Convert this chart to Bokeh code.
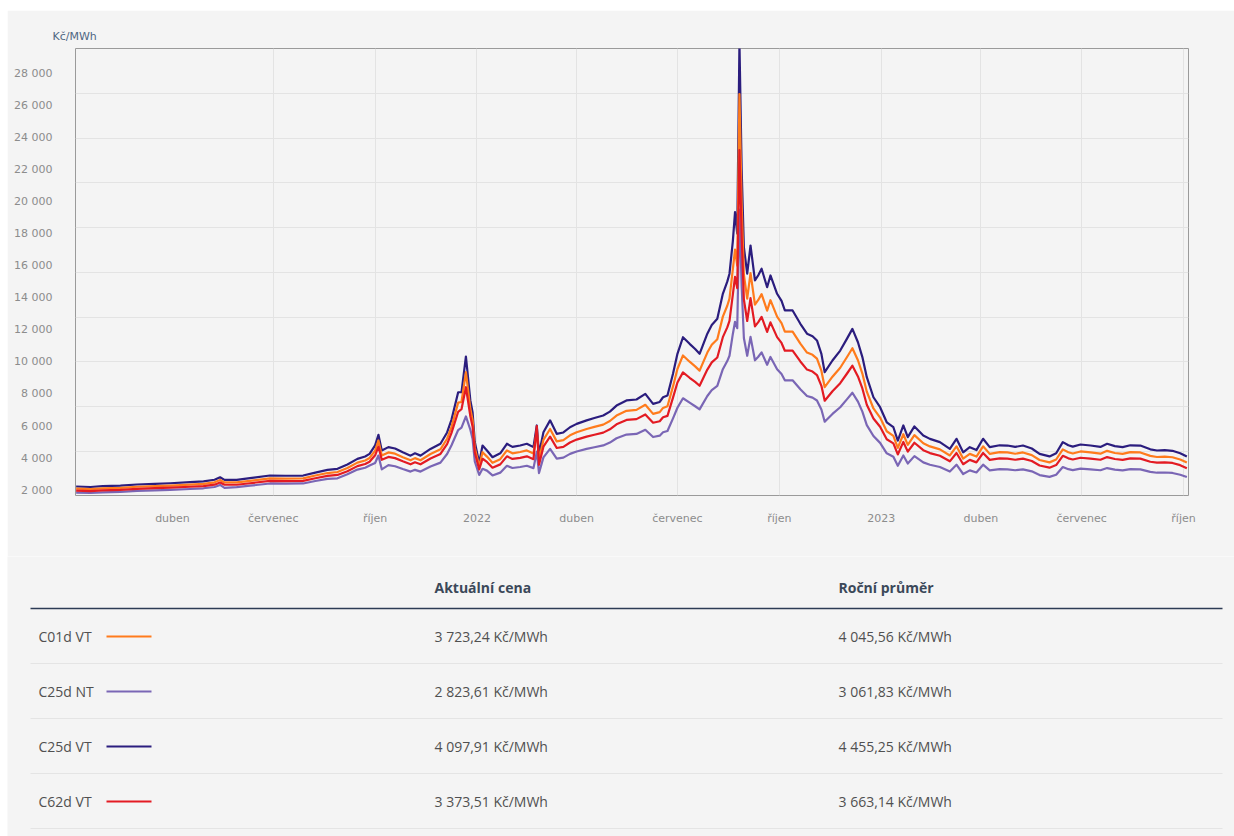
import pandas as pd
from bokeh.plotting import figure
from bokeh.models import Range1d, FixedTicker, ColumnDataSource
from bokeh.layouts import column
from bokeh.embed import file_html
from bokeh.resources import INLINE
from bokeh.core.properties import value

# ---------------- data ----------------
dates = [
    "2021-01-04", "2021-01-17", "2021-01-28", "2021-02-13", "2021-02-28", "2021-03-16", "2021-03-30", "2021-04-17", "2021-04-29", "2021-05-09",
    "2021-05-14", "2021-05-18", "2021-05-29", "2021-06-10", "2021-06-28", "2021-07-12", "2021-07-28", "2021-08-08", "2021-08-19", "2021-08-28",
    "2021-09-06", "2021-09-15", "2021-09-22", "2021-09-26", "2021-10-01", "2021-10-04", "2021-10-07", "2021-10-13", "2021-10-19", "2021-10-26",
    "2021-11-02", "2021-11-06", "2021-11-11", "2021-11-20", "2021-11-29", "2021-12-05", "2021-12-09", "2021-12-15", "2021-12-18", "2021-12-22",
    "2021-12-26", "2021-12-28", "2021-12-30", "2022-01-03", "2022-01-06", "2022-01-10", "2022-01-15", "2022-01-22", "2022-01-28", "2022-02-02",
    "2022-02-09", "2022-02-15", "2022-02-21", "2022-02-24", "2022-02-26", "2022-03-02", "2022-03-08", "2022-03-14", "2022-03-20", "2022-03-26",
    "2022-04-01", "2022-04-10", "2022-04-17", "2022-04-25", "2022-05-01", "2022-05-07", "2022-05-16", "2022-05-25", "2022-06-02", "2022-06-09",
    "2022-06-15", "2022-06-18", "2022-06-22", "2022-06-27", "2022-07-01", "2022-07-06", "2022-07-12", "2022-07-17", "2022-07-21", "2022-07-28",
    "2022-08-01", "2022-08-06", "2022-08-11", "2022-08-15", "2022-08-17", "2022-08-20", "2022-08-22", "2022-08-24", "2022-08-26", "2022-08-28",
    "2022-08-30", "2022-09-02", "2022-09-05", "2022-09-09", "2022-09-12", "2022-09-15", "2022-09-20", "2022-09-23", "2022-09-29", "2022-10-03",
    "2022-10-06", "2022-10-13", "2022-10-20", "2022-10-26", "2022-10-31", "2022-11-04", "2022-11-08", "2022-11-11", "2022-11-18", "2022-11-25",
    "2022-12-01", "2022-12-06", "2022-12-11", "2022-12-15", "2022-12-19", "2022-12-25", "2022-12-31", "2023-01-06", "2023-01-12", "2023-01-16",
    "2023-01-21", "2023-01-25", "2023-01-31", "2023-02-08", "2023-02-14", "2023-02-23", "2023-03-04", "2023-03-10", "2023-03-16", "2023-03-22",
    "2023-03-28", "2023-04-03", "2023-04-09", "2023-04-18", "2023-04-25", "2023-05-02", "2023-05-09", "2023-05-17", "2023-05-24", "2023-06-02",
    "2023-06-08", "2023-06-14", "2023-06-19", "2023-06-23", "2023-06-30", "2023-07-09", "2023-07-18", "2023-07-24", "2023-07-31", "2023-08-07",
    "2023-08-14", "2023-08-23", "2023-09-01", "2023-09-07", "2023-09-14", "2023-09-21", "2023-09-28", "2023-10-04",
]

c25d_vt = [
    2230, 2200, 2250, 2280, 2355, 2400, 2435, 2500, 2555, 2650,
    2805, 2645, 2645, 2750, 2915, 2900, 2915, 3100, 3265, 3335,
    3600, 3955, 4100, 4265, 4800, 5455, 4475, 4685, 4600, 4365,
    4155, 4300, 4155, 4575, 4895, 5600, 6400, 8105, 8105, 10335,
    7595, 6865, 5000, 3700, 4785, 4475, 4055, 4300, 4895, 4700,
    4785, 4895, 4685, 6035, 4265, 5615, 6355, 5515, 5600, 5925,
    6135, 6355, 6500, 6655, 6900, 7275, 7595, 7655, 8005, 7385,
    7500, 7795, 7900, 9255, 10500, 11535, 11125, 10800, 10505, 11755,
    12300, 12685, 14245, 15000, 15495, 17500, 19335, 18000, 29900, 22000,
    17145, 15495, 17255, 15075, 15400, 15805, 14655, 15385, 14245, 13800,
    13205, 13205, 12375, 11755, 11600, 11335, 10500, 9355, 10085, 10705,
    11435, 12055, 11225, 10300, 9045, 7795, 7175, 6235, 5925, 5095,
    6035, 5305, 5975, 5415, 5200, 4995, 4575, 5205, 4365, 4685,
    4500, 5205, 4685, 4800, 4785, 4700, 4785, 4600, 4265, 4105,
    4300, 4995, 4800, 4715, 4850, 4785, 4700, 4895, 4750, 4685,
    4800, 4785, 4550, 4475, 4500, 4455, 4300, 4098,
]

c01d_vt = [
    2095, 2070, 2115, 2145, 2215, 2255, 2290, 2350, 2400, 2490,
    2635, 2485, 2485, 2585, 2740, 2725, 2740, 2915, 3070, 3135,
    3385, 3720, 3855, 4010, 4465, 5100, 4160, 4355, 4280, 4060,
    3865, 4000, 3865, 4255, 4550, 5210, 5950, 7460, 7500, 9355,
    7060, 6380, 4650, 3500, 4370, 4095, 3710, 3935, 4480, 4300,
    4380, 4480, 4285, 5720, 3900, 5140, 5815, 5045, 5125, 5420,
    5615, 5815, 5950, 6090, 6315, 6655, 6950, 7005, 7325, 6760,
    6865, 7130, 7230, 8470, 9555, 10400, 10010, 9720, 9455, 10580,
    11070, 11415, 12820, 13500, 13945, 15750, 17000, 16000, 26700, 19800,
    15430, 13945, 15530, 13570, 13860, 14225, 13190, 13845, 12820, 12420,
    11885, 11885, 11140, 10580, 10440, 10200, 9450, 8420, 9075, 9635,
    10290, 10850, 10100, 9270, 8140, 7095, 6530, 5675, 5390, 4635,
    5490, 4830, 5435, 4930, 4730, 4545, 4165, 4735, 3970, 4265,
    4095, 4735, 4265, 4370, 4355, 4275, 4355, 4185, 3880, 3735,
    3915, 4545, 4370, 4290, 4415, 4355, 4275, 4455, 4320, 4265,
    4370, 4355, 4140, 4070, 4095, 4055, 3915, 3723,
]

c62d_vt = [
    1975, 1945, 1990, 2020, 2085, 2125, 2155, 2215, 2260, 2345,
    2480, 2340, 2340, 2435, 2580, 2565, 2580, 2745, 2890, 2950,
    3185, 3500, 3630, 3775, 4175, 4720, 3895, 4075, 4000, 3800,
    3615, 3740, 3615, 3980, 4260, 4870, 5570, 6890, 7050, 8420,
    6610, 5970, 4350, 3300, 3960, 3760, 3405, 3610, 4110, 3950,
    4020, 4110, 3935, 6000, 3580, 4715, 5340, 4630, 4705, 4975,
    5155, 5340, 5460, 5590, 5795, 6110, 6380, 6430, 6725, 6205,
    6300, 6550, 6635, 7775, 8715, 9345, 9010, 8750, 8510, 9520,
    9965, 10275, 11540, 12150, 12550, 14175, 15300, 14600, 23200, 17800,
    13890, 12550, 13975, 12210, 12475, 12800, 11870, 12460, 11540, 11180,
    10695, 10695, 10025, 9520, 9395, 9180, 8505, 7580, 8170, 8670,
    9260, 9765, 9090, 8345, 7325, 6470, 5955, 5175, 4920, 4230,
    5010, 4405, 4960, 4495, 4315, 4145, 3800, 4320, 3620, 3890,
    3735, 4320, 3890, 3985, 3970, 3900, 3970, 3820, 3540, 3405,
    3570, 4145, 3985, 3915, 4025, 3970, 3900, 4065, 3945, 3890,
    3985, 3970, 3775, 3715, 3735, 3700, 3560, 3374,
]

c25d_nt = [
    1850, 1825, 1870, 1890, 1955, 1990, 2020, 2075, 2120, 2200,
    2330, 2150, 2195, 2280, 2420, 2405, 2420, 2575, 2710, 2740,
    2990, 3285, 3400, 3540, 3700, 4160, 3300, 3560, 3495, 3320,
    3160, 3270, 3160, 3480, 3720, 4255, 4800, 5750, 5900, 6600,
    5770, 5215, 3800, 2950, 3335, 3220, 2920, 3095, 3525, 3385,
    3445, 3525, 3375, 4400, 3070, 4045, 4575, 3970, 4030, 4265,
    4415, 4575, 4680, 4790, 4970, 5240, 5470, 5510, 5765, 5315,
    5400, 5610, 5690, 6480, 7140, 7730, 7455, 7235, 7040, 7875,
    8240, 8500, 9545, 10050, 10380, 11725, 12500, 12100, 19500, 14700,
    11490, 10380, 11560, 10100, 10320, 10590, 9820, 10310, 9545, 9245,
    8850, 8850, 8290, 7875, 7770, 7595, 7035, 6270, 6755, 7170,
    7660, 8075, 7520, 6900, 6060, 5380, 4950, 4300, 4090, 3520,
    4165, 3660, 4125, 3735, 3590, 3445, 3160, 3590, 3010, 3235,
    3105, 3590, 3235, 3310, 3300, 3245, 3300, 3175, 2945, 2830,
    2965, 3445, 3310, 3255, 3345, 3300, 3245, 3380, 3280, 3235,
    3310, 3300, 3140, 3090, 3105, 3075, 2965, 2824,
]

series_names = ["C01d VT", "C25d NT", "C25d VT", "C62d VT"]
series_colors = ["#ff7b1c", "#7a66b5", "#2b1d7e", "#e31b23"]
current_price = [3723.24, 2823.61, 4097.91, 3373.51]
annual_avg = [4045.56, 3061.83, 4455.25, 3663.14]
table_headers = ["Aktuální cena", "Roční průměr"]

y_tick_values = [2000, 4000, 6000, 8000, 10000, 12000, 14000, 16000, 18000,
                 20000, 22000, 24000, 26000, 28000]
y_grid_values = [4431, 7218, 10005, 12792, 15579, 18366, 21153, 23940, 26727]
x_tick_dates = ["2021-04-01", "2021-07-01", "2021-10-01", "2022-01-01", "2022-04-01",
                "2022-07-01", "2022-10-01", "2023-01-01", "2023-04-01", "2023-07-01",
                "2023-10-01"]
x_tick_labels = ["duben", "červenec", "říjen", "2022", "duben", "červenec", "říjen",
                 "2023", "duben", "červenec", "říjen"]
x_grid_dates = x_tick_dates[1:]

# ---------------- helpers ----------------
def cz_int(v):
    return f"{v:,.0f}".replace(",", " ")

def cz_price(v):
    return f"{v:,.2f}".replace(",", " ").replace(".", ",") + " Kč/MWh"

def ms(d):
    return pd.Timestamp(d).value / 1e6

BG = "#f4f4f4"
W = 1227

# ---------------- chart ----------------
t0 = pd.Timestamp("2021-01-01")
x_start = t0 + pd.Timedelta(days=2.44)
x_end = t0 + pd.Timedelta(days=1007.5)

p = figure(width=W, height=546, x_axis_type="datetime",
           x_range=Range1d(x_start, x_end), y_range=Range1d(1670, 29535),
           output_backend="svg", toolbar_location=None, frame_align=False,
           min_border_left=68, min_border_right=46, min_border_top=38, min_border_bottom=61,
           background_fill_color=BG, border_fill_color=BG,
           outline_line_color="#9a9a9a", outline_line_width=1)

p.title.text = "Kč/MWh"
p.title.align = "left"
p.title.offset = -23
p.title.standoff = 11
p.title.text_font = "DejaVu Sans"
p.title.text_font_size = "11px"
p.title.text_font_style = "normal"
p.title.text_color = "#4f6783"

p.yaxis.ticker = FixedTicker(ticks=y_tick_values)
p.yaxis.major_label_overrides = {v: cz_int(v) for v in y_tick_values}
p.xaxis.ticker = FixedTicker(ticks=[ms(d) for d in x_tick_dates])
p.xaxis.major_label_overrides = {ms(d): lab for d, lab in zip(x_tick_dates, x_tick_labels)}

for ax in (p.xaxis, p.yaxis):
    ax.axis_line_color = None
    ax.major_tick_line_color = None
    ax.minor_tick_line_color = None
    ax.major_label_text_font = "DejaVu Sans"
    ax.major_label_text_font_size = "11px"
    ax.major_label_text_color = "#8c8c8c"
p.yaxis.major_label_standoff = 17
p.xaxis.major_label_standoff = 10

p.ygrid.ticker = FixedTicker(ticks=y_grid_values)
p.xgrid.ticker = FixedTicker(ticks=[ms(d) for d in x_grid_dates])
p.grid.grid_line_color = "#e3e3e3"
p.grid.grid_line_width = 1

src = ColumnDataSource(dict(date=pd.to_datetime(dates), c01d_vt=c01d_vt, c25d_nt=c25d_nt,
                            c25d_vt=c25d_vt, c62d_vt=c62d_vt))
draw_order = [("c25d_nt", 1), ("c25d_vt", 2), ("c01d_vt", 0), ("c62d_vt", 3)]
for col, idx in draw_order:
    p.line("date", col, source=src, line_color=series_colors[idx], line_width=2.2,
           line_join="round")

# ---------------- table ----------------
TH = 280
t = figure(width=W, height=TH, x_range=Range1d(0, W), y_range=Range1d(TH, 0),
           output_backend="svg", toolbar_location=None, min_border=0, frame_align=False,
           x_axis_location=None, y_axis_location=None,
           background_fill_color=BG, border_fill_color=BG, outline_line_color=None)
t.grid.visible = False

col_x = [427, 831]
header_y = 31
row_y = [80 + 55 * i for i in range(len(series_names))]
sep_y = [y + 27 for y in row_y]

t.text(x=col_x, y=[header_y] * 2, text=table_headers, text_font=value("Open Sans"),
       text_font_style="bold", text_font_size="14px", text_color="#3b4859",
       text_baseline="middle", text_align="left")
t.segment(x0=[23], y0=[52], x1=[1215], y1=[52], line_color="#2c3b55", line_width=1.5)
t.segment(x0=[23] * len(sep_y), y0=sep_y, x1=[1215] * len(sep_y), y1=sep_y,
          line_color="#e4e4e4", line_width=1)

t.text(x=[31] * len(series_names), y=row_y, text=series_names, text_font=value("Open Sans"),
       text_font_size="14px", text_color="#505050", text_baseline="middle", text_align="left")
t.segment(x0=[99] * len(row_y), y0=row_y, x1=[144] * len(row_y), y1=row_y,
          line_color=series_colors, line_width=2)
t.text(x=[col_x[0]] * len(row_y), y=row_y, text=[cz_price(v) for v in current_price],
       text_font=value("Open Sans"), text_font_size="14px", text_color="#505050",
       text_baseline="middle", text_align="left")
t.text(x=[col_x[1]] * len(row_y), y=row_y, text=[cz_price(v) for v in annual_avg],
       text_font=value("Open Sans"), text_font_size="14px", text_color="#505050",
       text_baseline="middle", text_align="left")

layout = column(p, t, spacing=0, margin=(10, 0, 0, 7))
open("out.html", "w", encoding="utf-8").write(file_html(layout, INLINE))
